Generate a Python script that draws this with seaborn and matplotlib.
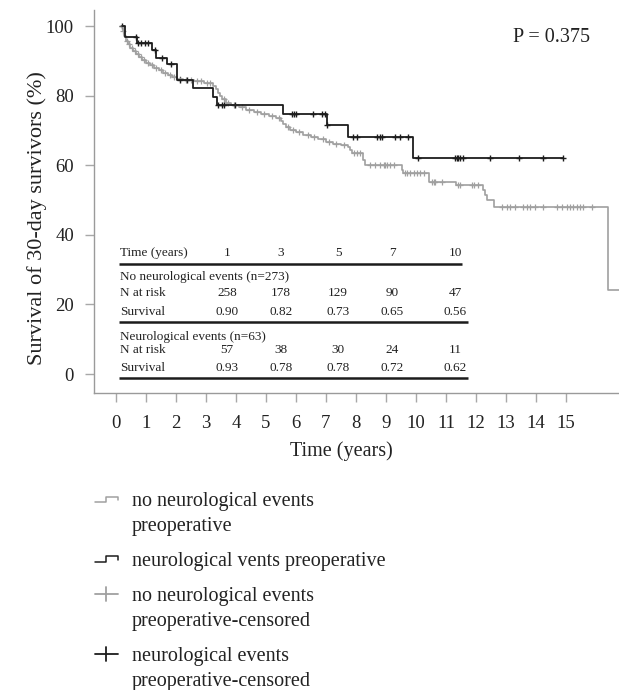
import numpy as np
import seaborn as sns
import matplotlib.pyplot as plt
from matplotlib.lines import Line2D
from matplotlib.legend_handler import HandlerBase

# Kaplan-Meier steps (years, % surviving)
no_neuro_t = [0.18, 0.22, 0.27, 0.33, 0.40, 0.48, 0.57, 0.66, 0.76, 0.88, 1.00, 1.13, 1.27,
              1.42, 1.57, 1.72, 1.88, 2.05, 2.25, 2.6, 2.95, 3.22, 3.32, 3.40, 3.47, 3.55,
              3.68, 3.85, 4.1, 4.35, 4.6, 4.85, 5.1, 5.35, 5.5, 5.58, 5.66, 5.8, 6.0, 6.25,
              6.5, 6.75, 7.0, 7.25, 7.5, 7.72, 7.8, 7.86, 8.24, 8.30, 9.52, 9.58, 10.44,
              11.33, 12.22, 12.30, 12.36, 12.61, 16.39, 16.8]
no_neuro_s = [100, 98.5, 97.0, 95.8, 94.8, 93.8, 92.8, 91.9, 91.0, 90.2, 89.4, 88.7, 88.0,
              87.3, 86.6, 85.9, 85.3, 84.8, 84.5, 84.1, 83.6, 82.8, 81.8, 80.8, 79.8, 78.9,
              78.0, 77.2, 76.6, 76.0, 75.4, 74.8, 74.2, 73.5, 72.7, 71.8, 70.9, 70.2, 69.5,
              68.8, 68.1, 67.4, 66.7, 66.2, 65.7, 65.2, 64.4, 63.4, 61.5, 60.0, 58.6, 57.9,
              55.3, 54.3, 52.9, 51.4, 50.0, 48.1, 24.1, 24.1]
neuro_t = [0.2, 0.30, 0.69, 1.19, 1.33, 1.71, 2.04, 2.58, 3.24, 3.36, 5.58, 7.02, 7.74, 9.89, 14.91]
neuro_s = [100, 96.9, 95.0, 93.1, 90.9, 89.1, 84.5, 82.1, 79.7, 77.3, 74.7, 71.6, 68.2, 62.0, 62.0]

# censoring times
no_neuro_cens = [0.25, 0.36, 0.45, 0.53, 0.62, 0.72, 0.83, 0.95, 1.08, 1.2, 1.35, 1.5, 1.63,
                 1.8, 1.95, 2.15, 2.35, 2.5, 2.7, 2.85, 3.05, 3.15, 3.6, 3.75, 3.95, 4.2, 4.45,
                 4.7, 4.95, 5.2, 5.42, 5.72, 5.9, 6.1, 6.4, 6.6, 6.9, 7.1, 7.35, 7.6, 7.95,
                 8.05, 8.15, 8.48, 8.64, 8.81, 8.92, 8.97, 9.03, 9.14, 9.26, 9.64, 9.7, 9.81,
                 9.92, 10.03, 10.14, 10.26, 10.55, 10.59, 10.64, 10.87, 11.41, 11.47, 11.86,
                 11.92, 12.08, 12.86, 13.02, 13.13, 13.3, 13.58, 13.69, 13.8, 13.97, 14.24,
                 14.69, 14.86, 15.02, 15.13, 15.24, 15.36, 15.47, 15.58, 15.86]
neuro_cens = [0.2, 0.66, 0.74, 0.85, 0.96, 1.07, 1.3, 1.52, 1.82, 2.13, 2.36, 3.41, 3.52, 3.6,
              3.97, 5.86, 5.93, 6.0, 6.58, 6.86, 6.97, 7.05, 7.91, 8.02, 8.69, 8.8, 8.86, 9.3,
              9.47, 9.74, 10.08, 11.3, 11.36, 11.41, 11.47, 11.58, 12.47, 13.44, 14.22, 14.91]

table_years = [1, 3, 5, 7, 10]
no_neuro_at_risk = [258, 178, 129, 90, 47]
no_neuro_surv = ['0.90', '0.82', '0.73', '0.65', '0.56']
neuro_at_risk = [57, 38, 30, 24, 11]
neuro_surv = ['0.93', '0.78', '0.78', '0.72', '0.62']
p_value = '0.375'

x_ticks = list(range(16))
y_ticks = [0, 20, 40, 60, 80, 100]

GRAY = '#a0a0a0'
BLACK = '#1c1c1c'
TXT = '#222222'


def step_value(times, surv, at):
    idx = np.searchsorted(times, at, side='right') - 1
    return np.asarray(surv)[np.clip(idx, 0, None)]


class KMHandler(HandlerBase):
    """legend icon: small step or a plus, lifted to the first label line"""
    def __init__(self, kind, color, lift=0.0):
        super().__init__()
        self.kind = kind
        self.color = color
        self.lift = lift

    def create_artists(self, legend, orig_handle, xdescent, ydescent, width, height, fontsize, trans):
        x0, x1 = -xdescent, width - xdescent
        yc = (height - ydescent) / 2 + self.lift * fontsize
        if self.kind == 'step':
            xm = (x0 + x1) / 2
            d = 0.13 * fontsize
            line = Line2D([x0, xm, xm, x1, x1], [yc - d, yc - d, yc + d, yc + d, yc - 0.3 * d],
                          color=self.color, lw=1.1, transform=trans)
            return [line]
        line = Line2D([x0, x1], [yc, yc], color=self.color, lw=1.3, transform=trans)
        vert = Line2D([(x0 + x1) / 2] * 2, [yc - 0.36 * fontsize, yc + 0.36 * fontsize],
                      color=self.color, lw=1.3, transform=trans)
        return [line, vert]


sns.set_style('ticks')
plt.rcParams['font.family'] = ['Liberation Serif', 'DejaVu Serif']

fig = plt.figure(figsize=(6.19, 6.90), dpi=100)
ax = fig.add_axes([0.1519, 0.4304, 0.8481, 0.5551])

sns.lineplot(x=no_neuro_t, y=no_neuro_s, drawstyle='steps-post', estimator=None, sort=False,
             color=GRAY, lw=1.2, ax=ax)
sns.lineplot(x=neuro_t, y=neuro_s, drawstyle='steps-post', estimator=None, sort=False,
             color=BLACK, lw=1.3, ax=ax)
sns.scatterplot(x=no_neuro_cens, y=step_value(no_neuro_t, no_neuro_s, no_neuro_cens),
                marker='+', s=14, color=GRAY, linewidth=0.9, ax=ax)
sns.scatterplot(x=neuro_cens, y=step_value(neuro_t, neuro_s, neuro_cens),
                marker='+', s=18, color=BLACK, linewidth=1.0, ax=ax)

ax.set_xlim(-0.73, 16.77)
ax.set_ylim(-5.46, 104.6)
ax.set_xticks(x_ticks)
ax.set_yticks(y_ticks)
ax.tick_params(axis='both', length=6.5, width=1, color='#a8a8a8', labelsize=13.5,
               labelcolor=TXT)
ax.tick_params(axis='y', pad=8)
ax.tick_params(axis='x', pad=9)
for side in ['top', 'right']:
    ax.spines[side].set_visible(False)
for side in ['left', 'bottom']:
    ax.spines[side].set_color('#9a9a9a')
    ax.spines[side].set_linewidth(1)
ax.set_xlabel('Time (years)', fontsize=14.5, color=TXT)
ax.set_ylabel('Survival of 30-day survivors (%)', fontsize=16, color=TXT)
ax.xaxis.set_label_coords(0.472, -0.125)
ax.yaxis.set_label_coords(-0.09, 0.457)

ax.text(0.798, 0.927, f'P = {p_value}', transform=ax.transAxes, fontsize=14.5,
        color=TXT, va='center', ha='left')

# number-at-risk table inside the axes
tfs = 9.5
col_x = [0.253, 0.356, 0.465, 0.568, 0.688]
left = 0.0495
kw = dict(transform=ax.transAxes, fontsize=tfs, color=TXT, va='center')
ax.text(left, 0.366, 'Time (years)', ha='left', **kw)
for cx, yr in zip(col_x, table_years):
    ax.text(cx, 0.366, str(yr), ha='center', **kw)
ax.text(left, 0.303, 'No neurological events (n=273)', ha='left', **kw)
ax.text(left, 0.261, 'N at risk', ha='left', **kw)
ax.text(left, 0.211, 'Survival', ha='left', **kw)
for cx, n, sv in zip(col_x, no_neuro_at_risk, no_neuro_surv):
    ax.text(cx, 0.261, str(n), ha='center', **kw)
    ax.text(cx, 0.211, sv, ha='center', **kw)
ax.text(left, 0.146, 'Neurological events (n=63)', ha='left', **kw)
ax.text(left, 0.112, 'N at risk', ha='left', **kw)
ax.text(left, 0.065, 'Survival', ha='left', **kw)
for cx, n, sv in zip(col_x, neuro_at_risk, neuro_surv):
    ax.text(cx, 0.112, str(n), ha='center', **kw)
    ax.text(cx, 0.065, sv, ha='center', **kw)
for yy, xr in [(0.337, 0.701), (0.185, 0.712), (0.039, 0.712)]:
    ax.plot([0.048, xr], [yy, yy], transform=ax.transAxes, color=BLACK, lw=1.8,
            solid_capstyle='butt')

# legend below the axes
h1, h2, h3, h4 = Line2D([], []), Line2D([], []), Line2D([], []), Line2D([], [])
labels = ['no neurological events\npreoperative',
          'neurological vents preoperative',
          'no neurological events\npreoperative-censored',
          'neurological events\npreoperative-censored']
lift = 0.74
leg = fig.legend([h1, h2, h3, h4], labels, loc='upper left', bbox_to_anchor=(0.153, 0.287),
                 frameon=False, fontsize=14.5, handlelength=1.15, handletextpad=0.7,
                 borderpad=0, borderaxespad=0, labelspacing=0.78,
                 handler_map={h1: KMHandler('step', GRAY, lift),
                              h2: KMHandler('step', BLACK, 0),
                              h3: KMHandler('plus', GRAY, lift),
                              h4: KMHandler('plus', BLACK, lift)})
for t in leg.get_texts():
    t.set_color(TXT)
    t.set_linespacing(1.45)

fig.savefig('out.png', dpi=100)
